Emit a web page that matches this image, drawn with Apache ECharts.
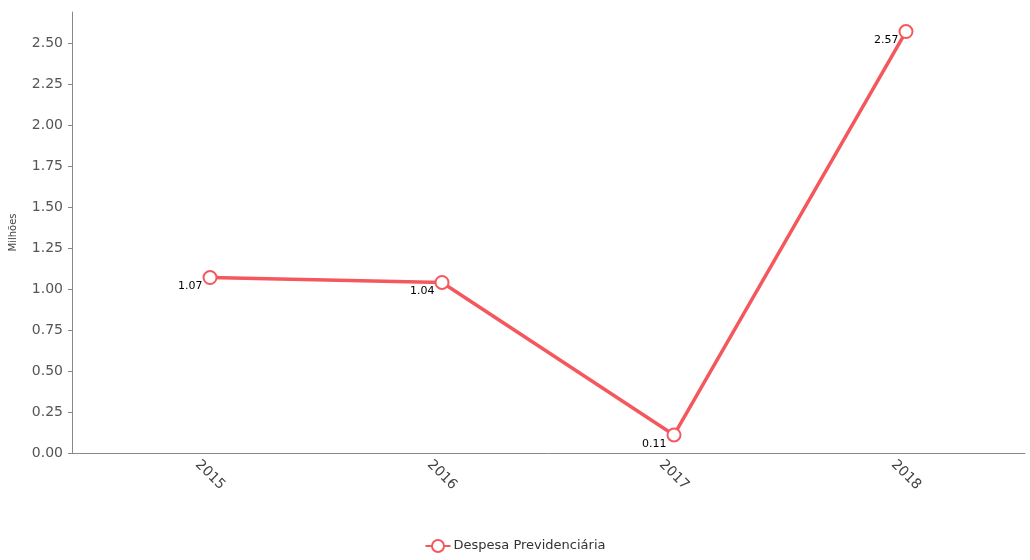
<!DOCTYPE html>
<html>
<head>
<meta charset="utf-8">
<script src="https://cdn.jsdelivr.net/npm/echarts@6/dist/echarts.min.js"></script>
<style>
  html, body { margin: 0; padding: 0; background: #fff; }
  #chart { width: 1030px; height: 560px; }
</style>
</head>
<body>
<div id="chart"></div>
<script>
var years = [2015, 2016, 2017, 2018];
var values = [1.07, 1.04, 0.11, 2.57];
var yTicks = [0, 0.25, 0.5, 0.75, 1, 1.25, 1.5, 1.75, 2, 2.25, 2.5];
var seriesName = 'Despesa Previdenciária';

var chart = echarts.init(document.getElementById('chart'));

var points = [];
for (var i = 0; i < years.length; i++) {
    points.push([years[i], values[i]]);
}

var option = {
    animation: false,
    textStyle: { fontFamily: 'DejaVu Sans' },
    grid: { left: 72, right: 5, top: 12, bottom: 107 },
    legend: {
        bottom: 2,
        left: 'center',
        itemWidth: 25,
        itemHeight: 15,
        itemGap: 0,
        textStyle: { color: '#333', fontSize: 13, padding: [0, 0, 0, -2] },
        data: [seriesName]
    },
    xAxis: {
        type: 'value',
        min: 2014.405,
        max: 2018.513,
        splitLine: { show: false },
        axisLine: { lineStyle: { color: '#888' } },
        axisTick: { show: false },
        axisLabel: {
            customValues: years,
            rotate: -45,
            align: 'center',
            verticalAlign: 'middle',
            color: '#444',
            fontSize: 14,
            margin: 22,
            formatter: function (v) { return String(v); }
        }
    },
    yAxis: {
        type: 'value',
        min: 0,
        max: 2.689,
        name: 'Milhões',
        nameLocation: 'middle',
        nameGap: 54,
        nameTextStyle: { color: '#444', fontSize: 10 },
        splitLine: { show: false },
        axisLine: { show: true, lineStyle: { color: '#888' } },
        axisTick: { show: true, customValues: yTicks, length: 4, lineStyle: { color: '#888' } },
        axisLabel: {
            customValues: yTicks,
            color: '#555',
            fontSize: 14,
            margin: 9,
            formatter: function (v) { return v.toFixed(2); }
        }
    },
    series: [
        {
            name: seriesName,
            type: 'line',
            data: points,
            symbol: 'emptyCircle',
            symbolSize: 13,
            lineStyle: { color: '#f4585c', width: 3.5 },
            itemStyle: { color: '#f4585c', borderColor: '#f4585c', borderWidth: 2 },
            label: {
                show: true,
                position: 'left',
                distance: 0,
                offset: [0, 9],
                color: '#000',
                fontSize: 11,
                formatter: function (p) { return p.value[1].toFixed(2); }
            }
        }
    ]
};

chart.setOption(option);
</script>
</body>
</html>
